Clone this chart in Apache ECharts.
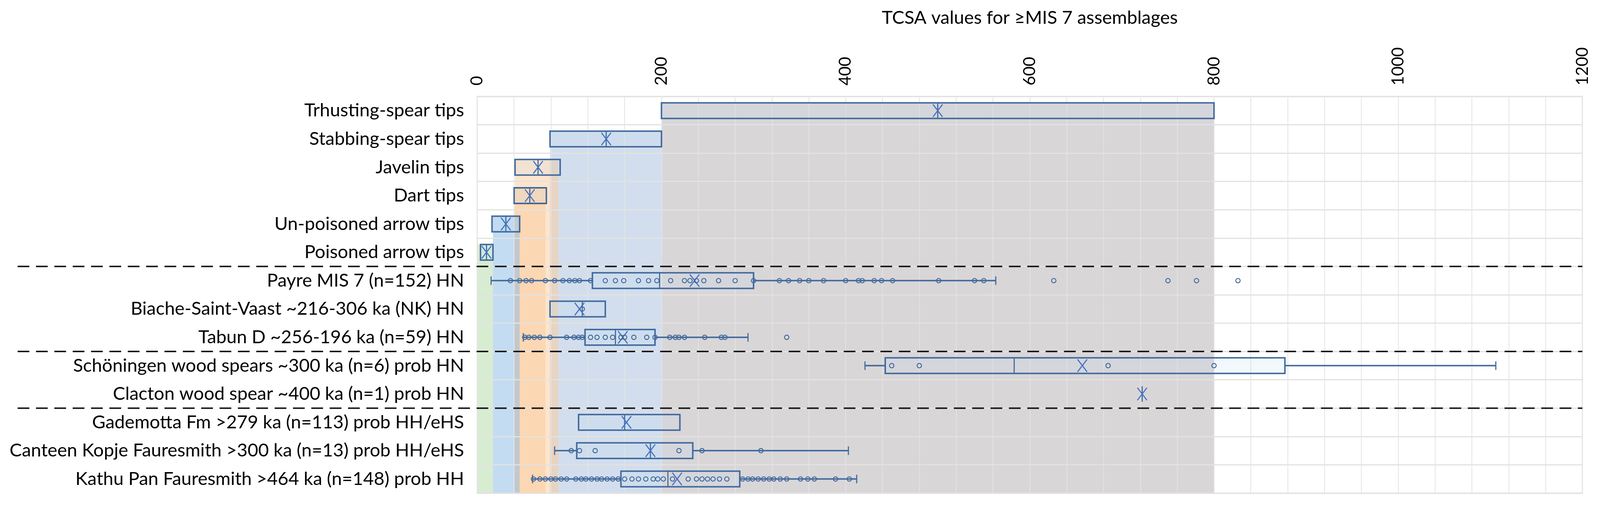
<!DOCTYPE html>
<html><head><meta charset="utf-8">
<script src="https://cdn.jsdelivr.net/npm/echarts@6/dist/echarts.min.js"></script>
<style>html,body{margin:0;padding:0;background:#fff;overflow:hidden}#c{width:100vw;height:100vh}</style>
</head><body><div id="c"></div>
<script>
// ---- data ----
const categories = [
  'Trhusting-spear tips',
  'Stabbing-spear tips',
  'Javelin tips',
  'Dart tips',
  'Un-poisoned arrow tips',
  'Poisoned arrow tips',
  'Payre MIS 7 (n=152) HN',
  'Biache-Saint-Vaast ~216-306 ka (NK) HN',
  'Tabun D ~256-196 ka (n=59) HN',
  'Schöningen wood spears ~300 ka (n=6) prob HN',
  'Clacton wood spear ~400 ka (n=1) prob HN',
  'Gademotta Fm >279 ka (n=113) prob HH/eHS',
  'Canteen Kopje Fauresmith >300 ka (n=13) prob HH/eHS',
  'Kathu Pan Fauresmith >464 ka (n=148) prob HH'
];
const whiskerLow  = [200, 79, 41, 40, 16, 3.5, 15, 79, 50, 421, 722, 110, 84, 60];
const q1          = [200, 79, 41, 40, 16, 3.5, 125, 79, 117, 443, 722, 110, 108, 156];
const median      = [500, 140, 66, 57, 31, 10, 198, 114, 150, 583, 722, 160, 188, 207];
const q3          = [800, 200, 90, 75, 46, 17, 300, 139, 193, 877, 722, 220, 234, 285];
const whiskerHigh = [800, 200, 90, 75, 46, 17, 563, 139, 294, 1106, 722, 220, 403, 412];
const mean        = [500, 140, 66, 57, 31, 10, 236, 111, 158, 657, 722, 162, 188, 217];

// shaded ranges of the reference weapon types (rows 0-5)
const shadeRow  = [0, 1, 2, 3, 4, 5];
const shadeLow  = [200, 79, 41, 40, 17, 0];
const shadeHigh = [800, 200, 88, 74, 46, 17];

// individual values shown as circles
const ptsPayre = [36,46,53,59,74,84,93,100,106,111,123,139,150,159,175,186,195,210,225,231,238,246,262,280,300,328,338,350,360,376,400,414,418,431,439,451,501,540,550,626,750,781,826];
const ptsBiache = [114];
const ptsTabun = [51.5,56,62,68,79,97,105,110,114,123,130,139,147,156,160,170,184,193,209,215,219,225,247,265,269,336];
const ptsSchoningen = [450,480,685,800];
const ptsCanteen = [102,111,128,219,244,308];
const ptsKathu = [61,68,74,80,85,91,97,107,113,118,124,130,135,141,147,153,160,168,175,183,191,196,202,212,229,238,244,250,256,263,271,288,294,299,305,311,317,322,329,336,351,359,366,389,404];

const xTicks = [0, 200, 400, 600, 800, 1000, 1200];
const separatorsAfter = [5, 8, 10];
const titleText = 'TCSA values for \u2265MIS 7 assemblages';

// ---- styles (scaled to the actual viewport) ----
const el = document.getElementById('c');
const W = el.clientWidth || window.innerWidth, H = el.clientHeight || window.innerHeight;
const sx = W / 4358, sy = H / 1301, s = Math.min(sx, sy);
const FONT = 'Lato, "Liberation Sans", sans-serif';
const BOX = '#41699c';
const XCOL = '#4472c4';
const BOXH = 40 * sy;
const shadeColors = [
  'rgba(179,173,177,0.5)',
  'rgba(165,190,220,0.5)',
  'rgba(251,201,153,0.5)',
  'rgba(251,201,153,0.5)',
  'rgba(135,185,227,0.5)',
  'rgba(177,217,165,0.5)'
];
const G = { left: 1300 * sx, right: 48 * sx, top: 247 * sy, bottom: 38 * sy };

const boxData = categories.map((c, i) => [i, whiskerLow[i], q1[i], median[i], q3[i], whiskerHigh[i], mean[i]]);
const shadeData = shadeRow.map((r, k) => [r, shadeLow[k], shadeHigh[k], k]);
const pointSets = [[6, ptsPayre], [7, ptsBiache], [8, ptsTabun], [9, ptsSchoningen], [12, ptsCanteen], [13, ptsKathu]];
const pointData = [];
pointSets.forEach(([row, arr]) => arr.forEach(v => pointData.push([v, row])));

function renderShade(params, api) {
  const row = api.value(0);
  const cs = params.coordSys;
  const yc = api.coord([0, row])[1];
  const x0 = api.coord([api.value(1), row])[0];
  const x1 = api.coord([api.value(2), row])[0];
  const top = yc - BOXH / 2;
  return {
    type: 'rect',
    shape: { x: x0, y: top, width: x1 - x0, height: cs.y + cs.height - top },
    style: { fill: shadeColors[api.value(3)] }
  };
}

function renderBox(params, api) {
  const i = api.value(0);
  const y = api.coord([0, i])[1];
  const p = k => api.coord([api.value(k), i])[0];
  const wl = p(1), b1 = p(2), md = p(3), b3 = p(4), wh = p(5), mn = p(6);
  const h = BOXH, cap = 11 * sy, xs = 13 * sx, ys = 16 * sy;
  const ln = (x1, y1, x2, y2, col, w) => ({ type: 'line', shape: { x1, y1, x2, y2 }, style: { stroke: col, lineWidth: w * s } });
  const ch = [];
  if (wl < b1 - 0.5) { ch.push(ln(wl, y, b1, y, BOX, 4)); ch.push(ln(wl, y - cap, wl, y + cap, BOX, 3)); }
  if (wh > b3 + 0.5) { ch.push(ln(b3, y, wh, y, BOX, 4)); ch.push(ln(wh, y - cap, wh, y + cap, BOX, 3)); }
  if (b3 - b1 > 0.5) {
    ch.push({ type: 'rect', shape: { x: b1, y: y - h / 2, width: b3 - b1, height: h },
      style: { fill: 'rgba(190,215,240,0.18)', stroke: BOX, lineWidth: 4 * s } });
  }
  ch.push(ln(md, y - h / 2, md, y + h / 2, BOX, 3));
  ch.push(ln(mn - xs, y - ys, mn + xs, y + ys, XCOL, 3));
  ch.push(ln(mn - xs, y + ys, mn + xs, y - ys, XCOL, 3));
  return { type: 'group', children: ch };
}

function renderSep(params, api) {
  const idx = api.value(0);
  const cs = params.coordSys;
  const y = api.coord([0, idx])[1] + api.size([0, 1])[1] / 2;
  return { type: 'line', shape: { x1: 48 * sx, y1: y, x2: cs.x + cs.width, y2: y },
    style: { stroke: '#111', lineWidth: 4 * s, lineDash: [32 * sx, 18 * sx] } };
}

const chart = echarts.init(el);
chart.setOption({
  animation: false,
  backgroundColor: '#fff',
  graphic: [{
    type: 'text', x: G.left + (W - G.left - G.right) / 2, y: 22 * sy,
    style: { text: titleText, align: 'center', verticalAlign: 'top', fontFamily: FONT, fontSize: 50 * s, fill: '#000' }
  }],
  grid: { left: G.left, right: G.right, top: G.top, bottom: G.bottom, show: true, borderColor: '#e0e0e0', borderWidth: 3 * s,
    backgroundColor: 'transparent', containLabel: false, outerBoundsMode: 'none' },
  xAxis: {
    type: 'value', position: 'top', min: xTicks[0], max: xTicks[xTicks.length - 1], interval: xTicks[1] - xTicks[0],
    axisLine: { show: false }, axisTick: { show: false },
    axisLabel: { rotate: -90, margin: 28 * sy, fontSize: 45 * s, color: '#000', fontFamily: FONT,
      formatter: v => xTicks.indexOf(v) >= 0 ? String(v) : '' },
    splitLine: { show: true, lineStyle: { color: '#e4e4e4', width: 2 * s } },
    minorTick: { show: false, splitNumber: 5 },
    minorSplitLine: { show: true, lineStyle: { color: '#e4e4e4', width: 2 * s } }
  },
  yAxis: {
    type: 'category', data: categories, inverse: true,
    axisLine: { show: false }, axisTick: { show: false },
    axisLabel: { margin: 36 * sx, fontSize: 50 * s, color: '#000', fontFamily: FONT },
    splitLine: { show: true, lineStyle: { color: '#e2e2e2', width: 3 * s } }
  },
  series: [
    { type: 'custom', name: 'shade', z: -1, renderItem: renderShade, data: shadeData,
      encode: { x: [1, 2], y: 0 }, silent: true },
    { type: 'custom', name: 'box', z: 3, renderItem: renderBox, data: boxData,
      encode: { x: [1, 2, 3, 4, 5, 6], y: 0 } },
    { type: 'scatter', name: 'values', z: 4, data: pointData, symbol: 'circle', symbolSize: 12 * s,
      itemStyle: { color: 'rgba(0,0,0,0)', borderColor: BOX, borderWidth: 2.5 * s, opacity: 1 } },
    { type: 'custom', name: 'sep', z: 5, clip: false, renderItem: renderSep,
      data: separatorsAfter.map(v => [v]), encode: { y: 0 }, silent: true }
  ]
});
</script></body></html>
